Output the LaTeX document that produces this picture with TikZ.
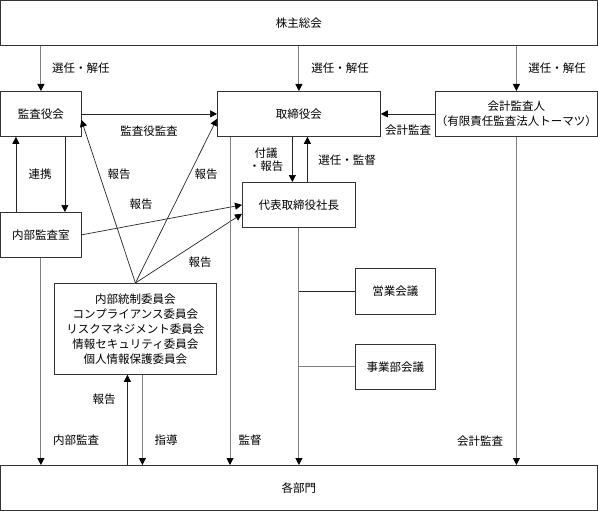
\documentclass[tikz,border=0pt]{standalone}
\usepackage{fontspec}
\setmainfont{Noto Sans CJK JP}
\usetikzlibrary{arrows.meta}
\begin{document}
\begin{tikzpicture}[x=1pt,y=-1pt,
  box/.style={draw=black!80, line width=0.8pt, inner sep=0pt, font=\fontsize{11.5}{15}\selectfont, align=center, anchor=north west},
  ln/.style={draw=black!85, line width=0.7pt},
  gl/.style={draw=black!50, line width=1pt},
  arr/.style={-{Triangle[length=7pt,width=7pt,black]}},
  lbl/.style={font=\fontsize{11.5}{13}\selectfont, inner sep=0pt, align=center}]
\useasboundingbox (0,0) rectangle (598,511);
% boxes
\node[box, minimum width=596pt, minimum height=45pt] (soukai) at (0.5,0.5) {株主総会};
\node[box, minimum width=80pt, minimum height=45pt] (kansa) at (0.5,91) {監査役会};
\node[box, minimum width=163pt, minimum height=45pt] (tori) at (217,91) {取締役会};
\node[box, minimum width=162pt, minimum height=45pt] (kaikei) at (435,91) {会計監査人\\（有限責任監査法人トーマツ）};
\node[box, minimum width=113pt, minimum height=45pt] (daihyo) at (242,182) {代表取締役社長};
\node[box, minimum width=80pt, minimum height=45pt] (naibu) at (0.5,212) {内部監査室};
\node[box, minimum width=162pt, minimum height=91pt] (iinkai) at (54,283) {内部統制委員会\\コンプライアンス委員会\\リスクマネジメント委員会\\情報セキュリティ委員会\\個人情報保護委員会};
\node[box, minimum width=80pt, minimum height=46pt] (eigyo) at (355,268) {営業会議};
\node[box, minimum width=80pt, minimum height=45pt] (jigyo) at (355,344) {事業部会議};
\node[box, minimum width=596pt, minimum height=45pt] (kakubu) at (0.5,465) {各部門};
% coordinates
\coordinate (t1) at ([xshift=-6.5pt]tori.south);
\coordinate (t2) at ([xshift=8.5pt]tori.south);
\coordinate (tk) at ([xshift=13pt]tori.south west);
\coordinate (k1) at ([xshift=-25pt]kansa.south);
\coordinate (k2) at ([xshift=24pt]kansa.south);
\coordinate (i1) at ([xshift=-8pt]iinkai.south);
\coordinate (i2) at ([xshift=7pt]iinkai.south);
\coordinate (kaR) at ([yshift=17pt]kansa.south east);
\coordinate (toL) at ([yshift=18pt]tori.south west);
\coordinate (daL) at ([yshift=14pt]daihyo.south west);
% top arrows
\draw[gl,arr] (soukai.south -| kansa.north) -- (kansa.north);
\draw[gl,arr] (soukai.south -| tori.north) -- (tori.north);
\draw[gl,arr] (soukai.south -| kaikei.north) -- (kaikei.north);
% horizontal
\draw[ln,arr] (kansa.east) -- (tori.west);
\draw[ln,arr] (kaikei.west) -- (tori.east);
% tori - daihyo
\draw[ln,arr] (t1) -- (t1 |- daihyo.north);
\draw[ln,arr] (t2 |- daihyo.north) -- (t2);
% kansa - naibu
\draw[ln,arr] (k1 |- naibu.north) -- (k1);
\draw[ln,arr] (k2) -- (k2 |- naibu.north);
% naibu -> daihyo
\draw[ln,arr] (naibu.east) -- (daihyo.west);
% iinkai reports
\draw[ln,arr] (iinkai.north) -- (kaR);
\draw[ln,arr] (iinkai.north) -- (toL);
\draw[ln,arr] (iinkai.north) -- (daL);
% down to kakubu
\draw[gl,arr] (naibu.south) -- (naibu.south |- kakubu.north);
\draw[ln,arr] (i1 |- kakubu.north) -- (i1);
\draw[gl,arr] (i2) -- (i2 |- kakubu.north);
\draw[gl,arr] (tk) -- (tk |- kakubu.north);
\draw[gl,arr] (daihyo.south) -- (daihyo.south |- kakubu.north);
\draw[gl,arr] (kaikei.south) -- (kaikei.south |- kakubu.north);
% branches
\draw[ln] (daihyo.south |- eigyo.west) -- (eigyo.west);
\draw[gl] (daihyo.south |- jigyo.west) -- (jigyo.west);
% labels
\node[lbl] (l1) at (81,68) {選任・解任};
\node[lbl] (l2) at (340,68) {選任・解任};
\node[lbl] (l3) at (557,68) {選任・解任};
\node[lbl] (l4) at (149,131) {監査役監査};
\node[lbl] (l5) at (408,130) {会計監査};
\node[lbl] (l6) at (266,160) {付議\\・報告};
\node[lbl] (l7) at (347,160) {選任・監督};
\node[lbl] (l8) at (40,174) {連携};
\node[lbl] (l9) at (119,174) {報告};
\node[lbl] (l10) at (206,174) {報告};
\node[lbl] (l11) at (141,204) {報告};
\node[lbl] (l12) at (200,262) {報告};
\node[lbl] (l13) at (104,399) {報告};
\node[lbl] (l14) at (76,440) {内部監査};
\node[lbl] (l15) at (166,440) {指導};
\node[lbl] (l16) at (250,440) {監督};
\node[lbl] (l17) at (480,441) {会計監査};
\end{tikzpicture}
\end{document}
